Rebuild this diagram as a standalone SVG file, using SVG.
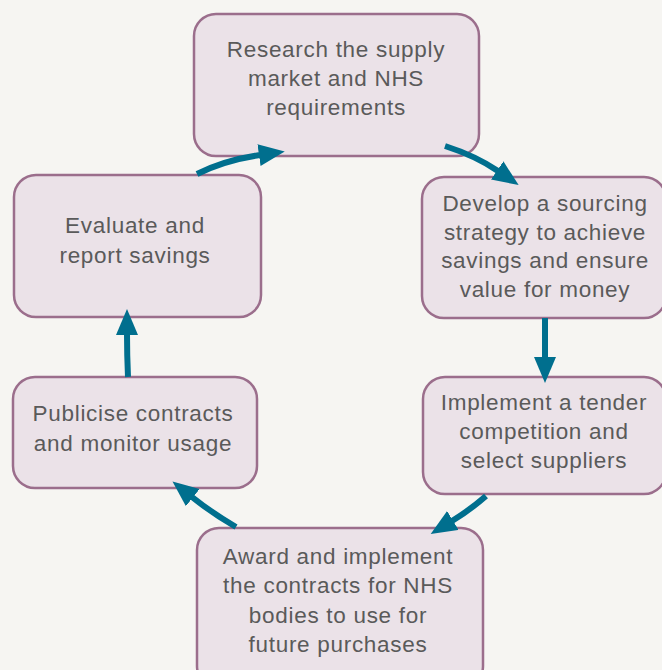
<svg xmlns="http://www.w3.org/2000/svg" width="662" height="670" viewBox="0 0 662 670">
  <style>
    .box { fill: #ebe2e8; stroke: #9b6e8c; stroke-width: 2.5; }
    .lbl { font-family: "Liberation Sans", Arial, sans-serif; font-size: 22.5px; letter-spacing: 0.7px; fill: #5a5a5a; text-anchor: middle; }
    .arrow { fill: none; stroke: #006f8e; stroke-width: 6; marker-end: url(#head); }
  </style>
  <defs>
    <marker id="head" markerUnits="userSpaceOnUse" markerWidth="30" markerHeight="24" refX="1" refY="11" orient="auto">
      <path d="M0,0 L26,11 L0,22 z" fill="#006f8e"/>
    </marker>
  </defs>

  <rect width="662" height="670" fill="#f6f5f2"/>

  <g id="research">
    <rect class="box" x="194" y="14" width="285" height="142" rx="22"/>
    <text class="lbl" x="336" y="57">Research the supply</text>
    <text class="lbl" x="336" y="86">market and NHS</text>
    <text class="lbl" x="336" y="115">requirements</text>
  </g>

  <g id="develop">
    <rect class="box" x="422" y="177" width="244" height="141" rx="22"/>
    <text class="lbl" x="545" y="211">Develop a sourcing</text>
    <text class="lbl" x="545" y="240">strategy to achieve</text>
    <text class="lbl" x="545" y="268">savings and ensure</text>
    <text class="lbl" x="545" y="297">value for money</text>
  </g>

  <g id="implement">
    <rect class="box" x="423" y="377" width="243" height="117" rx="22"/>
    <text class="lbl" x="544" y="410">Implement a tender</text>
    <text class="lbl" x="544" y="439">competition and</text>
    <text class="lbl" x="544" y="468">select suppliers</text>
  </g>

  <g id="award">
    <rect class="box" x="197" y="528" width="286" height="160" rx="22"/>
    <text class="lbl" x="338" y="564">Award and implement</text>
    <text class="lbl" x="338" y="593">the contracts for NHS</text>
    <text class="lbl" x="338" y="623">bodies to use for</text>
    <text class="lbl" x="338" y="652">future purchases</text>
  </g>

  <g id="publicise">
    <rect class="box" x="13" y="377" width="244" height="111" rx="22"/>
    <text class="lbl" x="133" y="421">Publicise contracts</text>
    <text class="lbl" x="133" y="451">and monitor usage</text>
  </g>

  <g id="evaluate">
    <rect class="box" x="14" y="175" width="247" height="142" rx="22"/>
    <text class="lbl" x="135" y="233">Evaluate and</text>
    <text class="lbl" x="135" y="263">report savings</text>
  </g>

  <!-- cycle connectors, drawn over the boxes -->
  <g id="connectors">
    <path class="arrow" d="M445,146 Q476,156 498,171"/>
    <path class="arrow" d="M545,318 L545,358"/>
    <path class="arrow" d="M486,496 Q470,510 452,521"/>
    <path class="arrow" d="M236,527 Q212,513 192,497"/>
    <path class="arrow" d="M128,377 Q127,355 127,334"/>
    <path class="arrow" d="M197,174 Q225,160 260,155"/>
  </g>
</svg>
